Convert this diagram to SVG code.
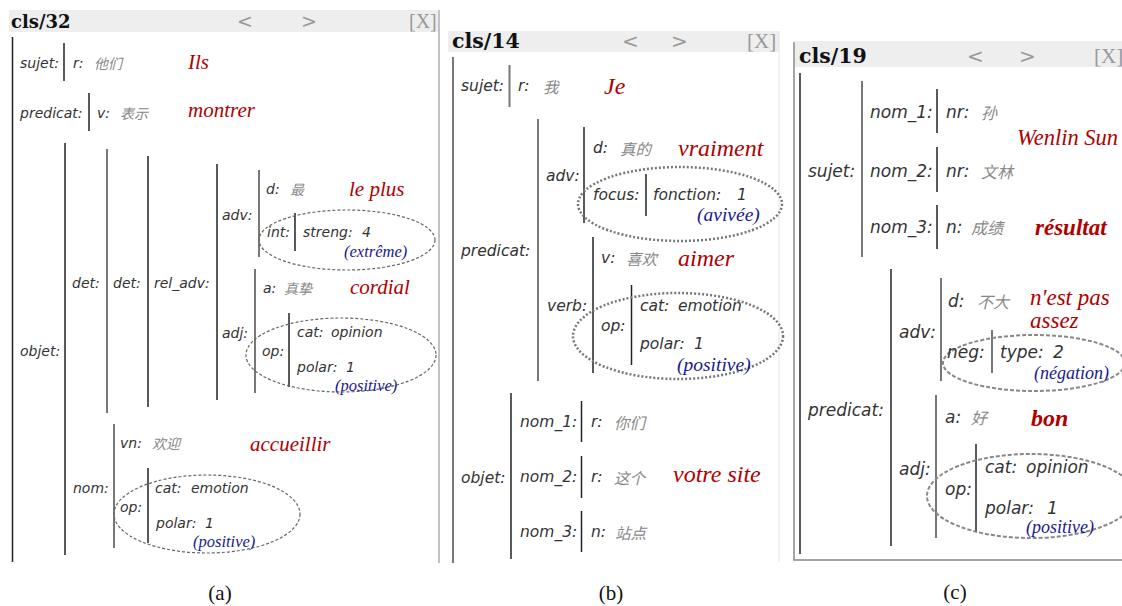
<svg xmlns="http://www.w3.org/2000/svg" width="1122" height="606" viewBox="0 0 1122 606">
<style>
text{dominant-baseline:central}
.hd{font-family:"DejaVu Serif",serif;font-weight:bold;fill:#111}
.nav{font-family:"DejaVu Sans",sans-serif;fill:#999}
.x{font-family:"Liberation Serif",serif;fill:#999}
.l{font-family:"DejaVu Sans",sans-serif;font-style:italic;fill:#333}
.zh{font-family:"Noto Sans CJK SC",sans-serif;font-style:italic;fill:#888}
.r{font-family:"Liberation Serif",serif;font-style:italic;fill:#b00000}
.b{font-family:"Liberation Serif",serif;font-style:italic;fill:#1a1a8c}
.cap{font-family:"Liberation Serif",serif;fill:#111;font-size:21px}
.k{stroke:#222;stroke-width:1.5}
.g{stroke:#777;stroke-width:2}
.ea{fill:none;stroke:#666;stroke-width:1.2;stroke-dasharray:3 2}
.eb{fill:none;stroke:#777;stroke-width:2.5;stroke-dasharray:2 2}
.ec{fill:none;stroke:#888;stroke-width:2;stroke-dasharray:4 2}
</style>
<rect width="1122" height="606" fill="#fff"/>

<!-- Panel (a) -->
<g id="panel-a">
<rect x="9" y="10" width="429" height="22" fill="#eee"/>
<line x1="439" y1="10" x2="439" y2="563" stroke="#999" stroke-width="1.2"/>
<text class="hd" x="11" y="21" font-size="18">cls/32</text>
<text class="nav" x="237" y="21" font-size="19">&lt;</text>
<text class="nav" x="301" y="21" font-size="19">&gt;</text>
<text class="x" x="409" y="21" font-size="20">[X]</text>
<g id="a-lines">
<line class="k" x1="12.5" y1="37" x2="12.5" y2="562"/>
<line class="k" x1="64" y1="43" x2="64" y2="81"/>
<line class="k" x1="89" y1="93" x2="89" y2="131"/>
<line class="k" x1="65" y1="143" x2="65" y2="555"/>
<line class="g" x1="107" y1="149" x2="107" y2="413"/>
<line class="k" x1="148" y1="156" x2="148" y2="407"/>
<line class="k" x1="217" y1="164" x2="217" y2="400"/>
<line class="g" x1="259" y1="170" x2="259" y2="257"/>
<line class="k" x1="295" y1="213" x2="295" y2="251"/>
<line class="g" x1="255" y1="269" x2="255" y2="393"/>
<line class="k" x1="289" y1="313" x2="289" y2="387"/>
<line class="g" x1="114" y1="424" x2="114" y2="548"/>
<line class="k" x1="148" y1="468" x2="148" y2="543"/>
</g>
<g id="a-sujet"><text class="l" x="20" y="63" font-size="14">sujet:</text><text class="l" x="73" y="63" font-size="14">r:</text><text class="zh" x="94" y="63" font-size="14">他们</text><text class="r" x="188" y="62" font-size="21">Ils</text></g>
<g id="a-predicat"><text class="l" x="20" y="113" font-size="14">predicat:</text><text class="l" x="97" y="113" font-size="14">v:</text><text class="zh" x="120" y="113" font-size="14">表示</text><text class="r" x="188" y="110" font-size="21">montrer</text></g>
<g id="a-objet"><text class="l" x="20" y="351" font-size="14">objet:</text></g>
<g id="a-det1"><text class="l" x="72" y="283" font-size="14">det:</text></g>
<g id="a-det2"><text class="l" x="113" y="283" font-size="14">det:</text></g>
<g id="a-reladv"><text class="l" x="154" y="283" font-size="14">rel_adv:</text></g>
<g id="a-adv"><text class="l" x="222" y="215" font-size="14">adv:</text>
<text class="l" x="266" y="189" font-size="14">d:</text><text class="zh" x="290" y="189" font-size="14">最</text><text class="r" x="349" y="189" font-size="21">le plus</text>
<ellipse class="ea" cx="347" cy="240" rx="88" ry="30"/>
<text class="l" x="267" y="232" font-size="14">int:</text><text class="l" x="303" y="232" font-size="14">streng:</text><text class="l" x="362" y="232" font-size="14">4</text>
<text class="b" x="344" y="251" font-size="16.5">(extrême)</text></g>
<g id="a-adj"><text class="l" x="222" y="333" font-size="14">adj:</text>
<text class="l" x="263" y="288" font-size="14">a:</text><text class="zh" x="284" y="288" font-size="14">真挚</text><text class="r" x="350" y="287" font-size="21">cordial</text>
<ellipse class="ea" cx="341" cy="355" rx="95" ry="37"/>
<text class="l" x="262" y="351" font-size="14">op:</text>
<text class="l" x="297" y="332" font-size="14">cat:</text><text class="l" x="331" y="332" font-size="14">opinion</text>
<text class="l" x="297" y="367" font-size="14">polar:</text><text class="l" x="346" y="367" font-size="14">1</text>
<text class="b" x="335" y="385" font-size="16.5">(positive)</text></g>
<g id="a-nom"><text class="l" x="73" y="488" font-size="14">nom:</text>
<text class="l" x="120" y="443" font-size="14">vn:</text><text class="zh" x="152" y="443" font-size="14">欢迎</text><text class="r" x="250" y="444" font-size="21">accueillir</text>
<ellipse class="ea" cx="207" cy="514" rx="93" ry="39"/>
<text class="l" x="120" y="507" font-size="14">op:</text>
<text class="l" x="155" y="488" font-size="14">cat:</text><text class="l" x="191" y="488" font-size="14">emotion</text>
<text class="l" x="156" y="523" font-size="14">polar:</text><text class="l" x="205" y="523" font-size="14">1</text>
<text class="b" x="193" y="541" font-size="16.5">(positive)</text></g>
<text class="cap" x="220" y="593" text-anchor="middle">(a)</text>
</g>

<!-- Panel (b) -->
<g id="panel-b">
<rect x="448" y="31" width="331" height="21" fill="#eee"/>
<line x1="779" y1="31" x2="779" y2="562" stroke="#e4e4e4" stroke-width="1"/>
<text class="hd" x="452" y="41" font-size="20.5">cls/14</text>
<text class="nav" x="622" y="41" font-size="20">&lt;</text>
<text class="nav" x="671" y="41" font-size="20">&gt;</text>
<text class="x" x="747" y="41" font-size="21">[X]</text>
<g id="b-lines">
<line class="g" x1="453" y1="57" x2="453" y2="563"/>
<line class="g" x1="509.5" y1="65" x2="509.5" y2="107"/>
<line class="g" x1="538" y1="119" x2="538" y2="381"/>
<line class="k" x1="584" y1="127" x2="584" y2="223"/>
<line class="k" x1="646" y1="174" x2="646" y2="216"/>
<line class="k" x1="593" y1="237" x2="593" y2="373"/>
<line class="k" x1="631.5" y1="285" x2="631.5" y2="365"/>
<line class="k" x1="511" y1="393" x2="511" y2="559"/>
<line class="k" x1="581.5" y1="401" x2="581.5" y2="442"/>
<line class="k" x1="581.5" y1="456" x2="581.5" y2="498"/>
<line class="k" x1="581.5" y1="511" x2="581.5" y2="552"/>
</g>
<g id="b-sujet"><text class="l" x="461" y="86" font-size="15.5">sujet:</text><text class="l" x="518" y="86" font-size="15.5">r:</text><text class="zh" x="543" y="86" font-size="15.5">我</text><text class="r" x="604" y="86" font-size="24">Je</text></g>
<g id="b-predicat"><text class="l" x="461" y="251" font-size="15.5">predicat:</text></g>
<g id="b-adv"><text class="l" x="546" y="176" font-size="15.5">adv:</text>
<text class="l" x="593" y="148" font-size="15.5">d:</text><text class="zh" x="620" y="148" font-size="15.5">真的</text><text class="r" x="678" y="148" font-size="24">vraiment</text>
<ellipse class="eb" cx="680" cy="204" rx="102" ry="37"/>
<text class="l" x="593" y="195" font-size="15.5">focus:</text><text class="l" x="653" y="195" font-size="15.5">fonction:</text><text class="l" x="737" y="195" font-size="15.5">1</text>
<text class="b" x="697" y="214" font-size="19.5">(avivée)</text></g>
<g id="b-verb"><text class="l" x="547" y="306" font-size="15.5">verb:</text>
<text class="l" x="601" y="258" font-size="15.5">v:</text><text class="zh" x="626" y="258" font-size="15.5">喜欢</text><text class="r" x="678" y="258" font-size="24">aimer</text>
<ellipse class="eb" cx="678" cy="336" rx="105" ry="43"/>
<text class="l" x="601" y="326" font-size="15.5">op:</text>
<text class="l" x="640" y="306" font-size="15.5">cat:</text><text class="l" x="678" y="306" font-size="15.5">emotion</text>
<text class="l" x="640" y="344" font-size="15.5">polar:</text><text class="l" x="694" y="344" font-size="15.5">1</text>
<text class="b" x="677" y="364" font-size="19.5">(positive)</text></g>
<g id="b-objet"><text class="l" x="461" y="478" font-size="15.5">objet:</text>
<text class="l" x="520" y="422" font-size="15.5">nom_1:</text><text class="l" x="591" y="422" font-size="15.5">r:</text><text class="zh" x="614" y="422" font-size="15.5">你们</text>
<text class="l" x="520" y="477" font-size="15.5">nom_2:</text><text class="l" x="591" y="477" font-size="15.5">r:</text><text class="zh" x="614" y="477" font-size="15.5">这个</text>
<text class="r" x="673" y="474" font-size="24">votre site</text>
<text class="l" x="520" y="532" font-size="15.5">nom_3:</text><text class="l" x="591" y="532" font-size="15.5">n:</text><text class="zh" x="615" y="532" font-size="15.5">站点</text></g>
<text class="cap" x="611" y="593" text-anchor="middle">(b)</text>
</g>

<!-- Panel (c) -->
<g id="panel-c">
<rect x="795" y="43" width="327" height="24" fill="#eee"/>
<path d="M794 42 V560 H1122" fill="none" stroke="#888" stroke-width="1.5"/>
<line x1="794" y1="42" x2="1122" y2="42" stroke="#ddd" stroke-width="1"/>
<text class="hd" x="799" y="56" font-size="20.5">cls/19</text>
<text class="nav" x="967" y="56" font-size="20">&lt;</text>
<text class="nav" x="1019" y="56" font-size="20">&gt;</text>
<text class="x" x="1094" y="56" font-size="21">[X]</text>
<g id="c-lines">
<line class="k" x1="800" y1="73" x2="800" y2="554" stroke-width="2"/>
<line class="g" x1="862" y1="81" x2="862" y2="257"/>
<line class="k" x1="937" y1="89" x2="937" y2="133"/>
<line class="k" x1="937" y1="147" x2="937" y2="192"/>
<line class="k" x1="937" y1="205" x2="937" y2="249"/>
<line class="k" x1="891" y1="269" x2="891" y2="546"/>
<line class="g" x1="941" y1="278" x2="941" y2="381"/>
<line class="g" x1="992" y1="330" x2="992" y2="373"/>
<line class="g" x1="936" y1="395" x2="936" y2="538"/>
<line class="k" x1="976" y1="444" x2="976" y2="532"/>
</g>
<g id="c-sujet"><text class="l" x="808" y="171" font-size="17">sujet:</text>
<text class="l" x="870" y="112" font-size="17">nom_1:</text><text class="l" x="946" y="112" font-size="17">nr:</text><text class="zh" x="981" y="112" font-size="16">孙</text>
<text class="r" x="1017" y="137" font-size="22.5" fill="#c00000">Wenlin Sun</text>
<text class="l" x="870" y="171" font-size="17">nom_2:</text><text class="l" x="946" y="171" font-size="17">nr:</text><text class="zh" x="981" y="171" font-size="16">文林</text>
<text class="l" x="870" y="227" font-size="17">nom_3:</text><text class="l" x="946" y="227" font-size="17">n:</text><text class="zh" x="971" y="227" font-size="16">成绩</text>
<text class="r" x="1035" y="227" font-size="23" font-weight="bold">résultat</text></g>
<g id="c-predicat"><text class="l" x="808" y="410" font-size="17">predicat:</text></g>
<g id="c-adv"><text class="l" x="899" y="332" font-size="17">adv:</text>
<text class="l" x="948" y="301" font-size="17">d:</text><text class="zh" x="977" y="301" font-size="16">不大</text>
<text class="r" x="1030" y="297" font-size="23">n'est pas</text><text class="r" x="1030" y="320" font-size="23">assez</text>
<ellipse class="ec" cx="1034" cy="363" rx="91" ry="28"/>
<text class="l" x="947" y="352" font-size="17">neg:</text><text class="l" x="1000" y="352" font-size="17">type:</text><text class="l" x="1053" y="352" font-size="17">2</text>
<text class="b" x="1034" y="373" font-size="18" fill="#4444bb">(négation)</text></g>
<g id="c-adj"><text class="l" x="899" y="469" font-size="17">adj:</text>
<text class="l" x="945" y="417" font-size="17">a:</text><text class="zh" x="971" y="417" font-size="16">好</text>
<text class="r" x="1031" y="418" font-size="24" font-weight="bold">bon</text>
<ellipse class="ec" cx="1031" cy="496" rx="104" ry="42"/>
<text class="l" x="945" y="489" font-size="17">op:</text>
<text class="l" x="985" y="467" font-size="17">cat:</text><text class="l" x="1026" y="467" font-size="17">opinion</text>
<text class="l" x="985" y="508" font-size="17">polar:</text><text class="l" x="1047" y="508" font-size="17">1</text>
<text class="b" x="1026" y="527" font-size="18" fill="#4444bb">(positive)</text></g>
<text class="cap" x="955" y="592" text-anchor="middle">(c)</text>
</g>
</svg>
